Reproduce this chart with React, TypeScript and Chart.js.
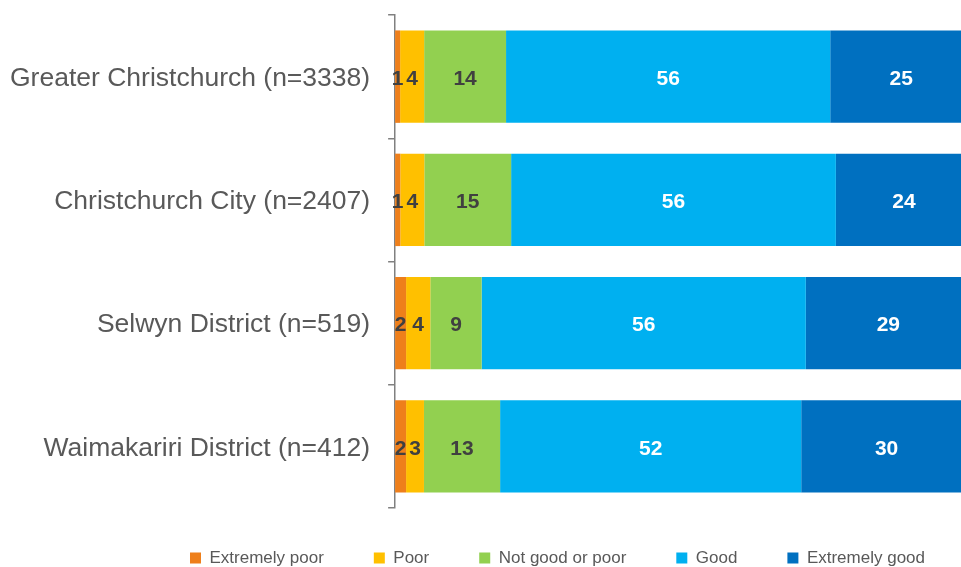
import React, { useEffect, useRef } from "react";
import { Chart, registerables } from "chart.js";

Chart.register(...registerables);

const categories = [
  "Greater Christchurch (n=3338)",
  "Christchurch City (n=2407)",
  "Selwyn District (n=519)",
  "Waimakariri District (n=412)",
];
const seriesNames = ["Extremely poor", "Poor", "Not good or poor", "Good", "Extremely good"];
const extremelyPoor = [0.87, 0.9, 1.9, 1.9];
const poor = [4.16, 4.16, 4.2, 3.1];
const notGoodOrPoor = [14.2, 15.05, 8.9, 13.2];
const good = [56.2, 56.3, 56.2, 52.2];
const extremelyGood = [24.6, 23.6, 28.6, 29.6];

const seriesValues = [extremelyPoor, poor, notGoodOrPoor, good, extremelyGood];
const seriesColors = ["#EE7F1B", "#FFC000", "#92D050", "#00B0F0", "#0070C0"];
const labelColors = ["#404040", "#404040", "#404040", "#FFFFFF", "#FFFFFF"];
const X_MAX = 98.1;

const LEGEND_X = 190;
const LEGEND_Y = 558;
const LEGEND_FONT = 17;
const TICK_PAD = 18;

const dataLabels = {
  id: "dataLabels",
  afterDatasetsDraw(chart: any) {
    const ctx = chart.ctx;
    ctx.save();
    ctx.font = "bold 21px 'Liberation Sans', Arial, sans-serif";
    ctx.textAlign = "center";
    ctx.textBaseline = "middle";
    chart.data.datasets.forEach((ds: any, i: number) => {
      const meta = chart.getDatasetMeta(i);
      meta.data.forEach((el: any, j: number) => {
        const p = el.getProps(["x", "y", "base"], true);
        const v = ds.data[j] as number;
        ctx.fillStyle = labelColors[i];
        ctx.fillText(String(Math.round(v)), (p.x + p.base) / 2, p.y + 2.5);
      });
    });
    ctx.restore();
  },
};

const legendPlacer = {
  id: "legendPlacer",
  afterLayout(chart: any) {
    const lg = chart.legend;
    if (!lg || !lg.lineWidths) return;
    const pad = lg.options.labels.padding;
    const x0 = (lg.left + pad + lg.right - lg.lineWidths[0]) / 2;
    const dx = LEGEND_X - x0;
    lg.left += dx;
    lg.right += dx;
    const dy = LEGEND_Y - (lg.top + pad + LEGEND_FONT / 2);
    lg.top += dy;
    lg.bottom = chart.height;
    lg.height = lg.bottom - lg.top;
  },
};

export default function App() {
  const ref = useRef<HTMLCanvasElement | null>(null);

  useEffect(() => {
    if (!ref.current) return;
    const chart = new Chart(ref.current, {
      type: "bar",
      data: {
        labels: categories,
        datasets: seriesNames.map((name, i) => ({
          label: name,
          data: seriesValues[i],
          backgroundColor: seriesColors[i],
          borderWidth: 0,
          categoryPercentage: 1,
          barPercentage: 0.75,
        })),
      },
      options: {
        indexAxis: "y",
        animation: false,
        responsive: true,
        maintainAspectRatio: false,
        layout: { padding: { left: 10, top: 15, right: 0, bottom: 0 } },
        scales: {
          x: {
            stacked: true,
            min: 0,
            max: X_MAX,
            display: false,
          },
          y: {
            stacked: true,
            afterFit(scale: any) {
              scale.width -= TICK_PAD;
              scale.paddingTop = 0;
              scale.paddingBottom = 0;
            },
            grid: {
              drawOnChartArea: false,
              drawTicks: true,
              tickLength: 7,
              color: "#808080",
              lineWidth: 1.5,
            },
            border: { display: true, color: "#808080", width: 1.5 },
            ticks: {
              color: "#595959",
              padding: TICK_PAD,
              labelOffset: 2,
              font: { family: "'Liberation Sans', Arial, sans-serif", size: 26.5 },
            },
          },
        },
        plugins: {
          legend: {
            position: "bottom",
            maxHeight: 59,
            labels: {
              boxWidth: 11,
              boxHeight: 11,
              padding: 50,
              color: "#595959",
              font: { family: "'Liberation Sans', Arial, sans-serif", size: LEGEND_FONT },
            },
          },
          tooltip: { enabled: false },
        },
      },
      plugins: [dataLabels, legendPlacer],
    });
    return () => chart.destroy();
  }, []);

  return (
    <div style={{ position: "absolute", left: 0, top: 0, width: 961, height: 567 }}>
      <canvas ref={ref} />
    </div>
  );
}
